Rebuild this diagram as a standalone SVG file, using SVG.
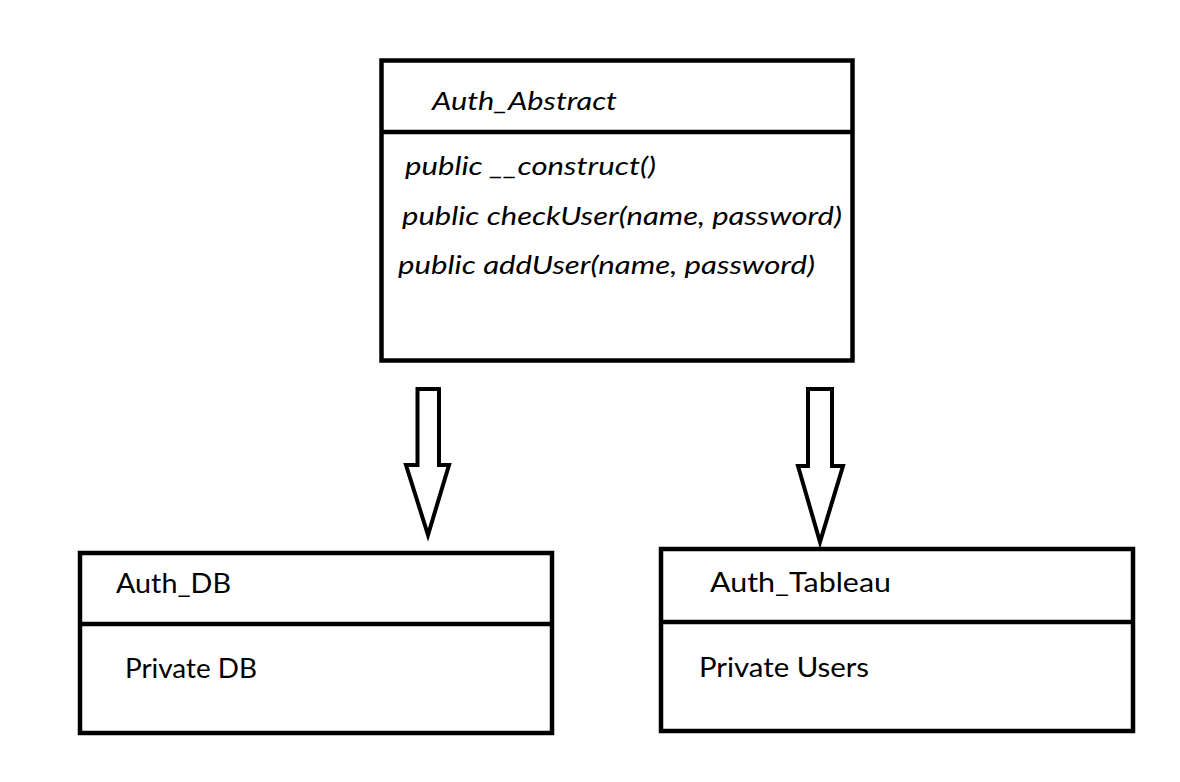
<svg xmlns="http://www.w3.org/2000/svg" width="1180" height="782" viewBox="0 0 1180 782">
<style>
.box{fill:#fff;stroke:#000;stroke-width:4.5}
.div{stroke:#000;stroke-width:4.5}
.arrow{fill:#fff;stroke:#000;stroke-width:4;stroke-linejoin:miter}
.t{font-family:Lato,"Open Sans","Liberation Sans",sans-serif;font-size:26px;fill:#000}
.i{font-style:italic}
</style>
<rect width="1180" height="782" fill="#fff"/>
<g id="auth_abstract">
<rect class="box" x="381.5" y="60.5" width="471" height="300"/>
<line class="div" x1="381.5" y1="132" x2="852.5" y2="132"/>
<text class="t i" x="432" y="110" textLength="185" lengthAdjust="spacingAndGlyphs">Auth_Abstract</text>
<text class="t i" x="405" y="175" textLength="251" lengthAdjust="spacingAndGlyphs">public __construct()</text>
<text class="t i" x="402" y="225" textLength="440" lengthAdjust="spacingAndGlyphs">public checkUser(name, password)</text>
<text class="t i" x="398" y="274" textLength="417" lengthAdjust="spacingAndGlyphs">public addUser(name, password)</text>
</g>
<g id="connectors">
<polygon class="arrow" points="417.5,389 439,389 439,465 449,465 428,535 406,465 417.5,465"/>
<polygon class="arrow" points="808,389 832,389 832,466 843,466 820,542 798,466 808,466"/>
</g>
<g id="auth_db">
<rect class="box" x="80" y="553" width="472" height="180"/>
<line class="div" x1="80" y1="624" x2="552" y2="624"/>
<text class="t" x="116" y="593" textLength="115" lengthAdjust="spacingAndGlyphs">Auth_DB</text>
<text class="t" x="125" y="678" textLength="132" lengthAdjust="spacingAndGlyphs">Private DB</text>
</g>
<g id="auth_tableau">
<rect class="box" x="661" y="549" width="472" height="182"/>
<line class="div" x1="661" y1="622" x2="1133" y2="622"/>
<text class="t" x="710" y="592" textLength="181" lengthAdjust="spacingAndGlyphs">Auth_Tableau</text>
<text class="t" x="699" y="677" textLength="170" lengthAdjust="spacingAndGlyphs">Private Users</text>
</g>
</svg>
